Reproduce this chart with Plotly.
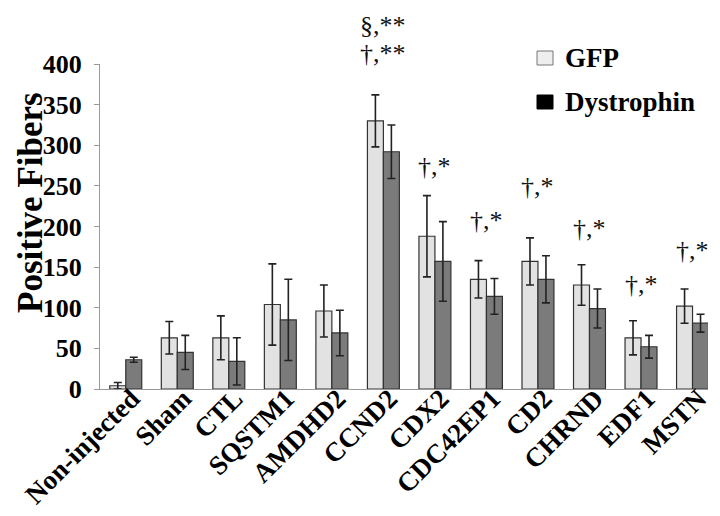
import plotly.graph_objects as go

categories = ["Non-injected", "Sham", "CTL", "SQSTM1", "AMDHD2", "CCND2",
              "CDX2", "CDC42EP1", "CD2", "CHRND", "EDF1", "MSTN"]
gfp = [4, 63, 63, 104, 96, 330, 188, 135, 157, 128, 63, 102]
gfp_err = [4, 20, 27, 50, 32, 32, 50, 23, 29, 25, 21, 21]
dys = [36, 45, 34, 85, 69, 292, 157, 114, 135, 99, 52, 81]
dys_err = [3, 21, 29, 50, 28, 33, 49, 22, 29, 24, 14, 11]

sig_labels = ["", "", "", "", "", "†,**", "†,*", "†,*", "†,*", "†,*", "†,*", "†,*"]
sig_y = [None, None, None, None, None, 413, 274, 207, 249, 197, 129, 171]
top_label = "§,**"
top_label_y = 447

serif = "Liberation Serif"
Y_MAX = 400

fig = go.Figure()
fig.add_trace(go.Bar(
    x=categories, y=gfp, name="GFP",
    marker=dict(color="#e2e2e2", line=dict(color="#333333", width=1.2)),
    error_y=dict(type="data", array=gfp_err, color="#222222", thickness=1.6, width=4),
    showlegend=False,
))
fig.add_trace(go.Bar(
    x=categories, y=dys, name="Dystrophin",
    marker=dict(color="#7b7b7b", line=dict(color="#333333", width=1.2)),
    error_y=dict(type="data", array=dys_err, color="#222222", thickness=1.6, width=4),
    showlegend=False,
))

# page offset (browser body margin)
OFF = 8
W, H = 720 - OFF, 516 - OFF
L, R, T, B = 100 - OFF, 12, 64 - OFF, 127
pw, ph = W - L - R, H - T - B

def px2paper_x(px):
    return (px - OFF - L) / pw

def px2paper_y(py):
    return (H - B - (py - OFF)) / ph

annotations = []
ann_font = dict(family=serif, size=26, color="#111")
for c, lab, yv in zip(categories, sig_labels, sig_y):
    if lab and yv is not None:
        annotations.append(dict(x=c, y=yv / Y_MAX, xref="x", yref="paper", text=lab,
                                showarrow=False, yanchor="middle", xanchor="center", font=ann_font))
annotations.append(dict(x="CCND2", y=top_label_y / Y_MAX, xref="x", yref="paper", text=top_label,
                        showarrow=False, yanchor="middle", xanchor="center", font=ann_font))

# y-axis title
annotations.append(dict(x=px2paper_x(30), y=px2paper_y(203), xref="paper", yref="paper",
                        text="<b>Positive Fibers</b>", textangle=-90, showarrow=False,
                        xanchor="center", yanchor="middle", borderpad=0,
                        font=dict(family=serif, size=35, color="#000")))

# legend (drawn as shapes + text)
legend_items = [("GFP", "#eeeeee", "#777777", 58), ("Dystrophin", "#000000", "#000000", 102)]
shapes = []
for name, fill, edge, cy in legend_items:
    shapes.append(dict(type="rect", xref="paper", yref="paper",
                       x0=px2paper_x(537), x1=px2paper_x(553),
                       y0=px2paper_y(cy + 7), y1=px2paper_y(cy - 7),
                       fillcolor=fill, line=dict(color=edge, width=1)))
    annotations.append(dict(x=px2paper_x(563), y=px2paper_y(cy), xref="paper", yref="paper",
                            text="<b>%s</b>" % name, showarrow=False, xanchor="left", yanchor="middle",
                            font=dict(family=serif, size=27, color="#000")))

fig.update_layout(
    width=W, height=H,
    margin=dict(l=L, r=R, t=T, b=B, autoexpand=False),
    paper_bgcolor="white", plot_bgcolor="white",
    barmode="group", bargap=0.38, bargroupgap=0,
    annotations=annotations, shapes=shapes,
    font=dict(family=serif, color="#000"),
)
fig.update_xaxes(
    range=[-0.5, 11.3], showline=True, linecolor="#999999", linewidth=1,
    ticks="", tickangle=-45, showgrid=False, automargin=False,
    tickfont=dict(family=serif, size=27, color="#000", weight="bold"),
    ticklabelstandoff=-18, ticklabelshift=6,
)
fig.update_yaxes(
    range=[0, Y_MAX], dtick=50, showline=True, linecolor="#999999", linewidth=1,
    ticks="outside", ticklen=5, tickcolor="#999999", showgrid=False, zeroline=False,
    automargin=False,
    tickfont=dict(family=serif, size=26, color="#000", weight="bold"),
    ticklabelstandoff=7,
)

fig.write_html("out.html")
